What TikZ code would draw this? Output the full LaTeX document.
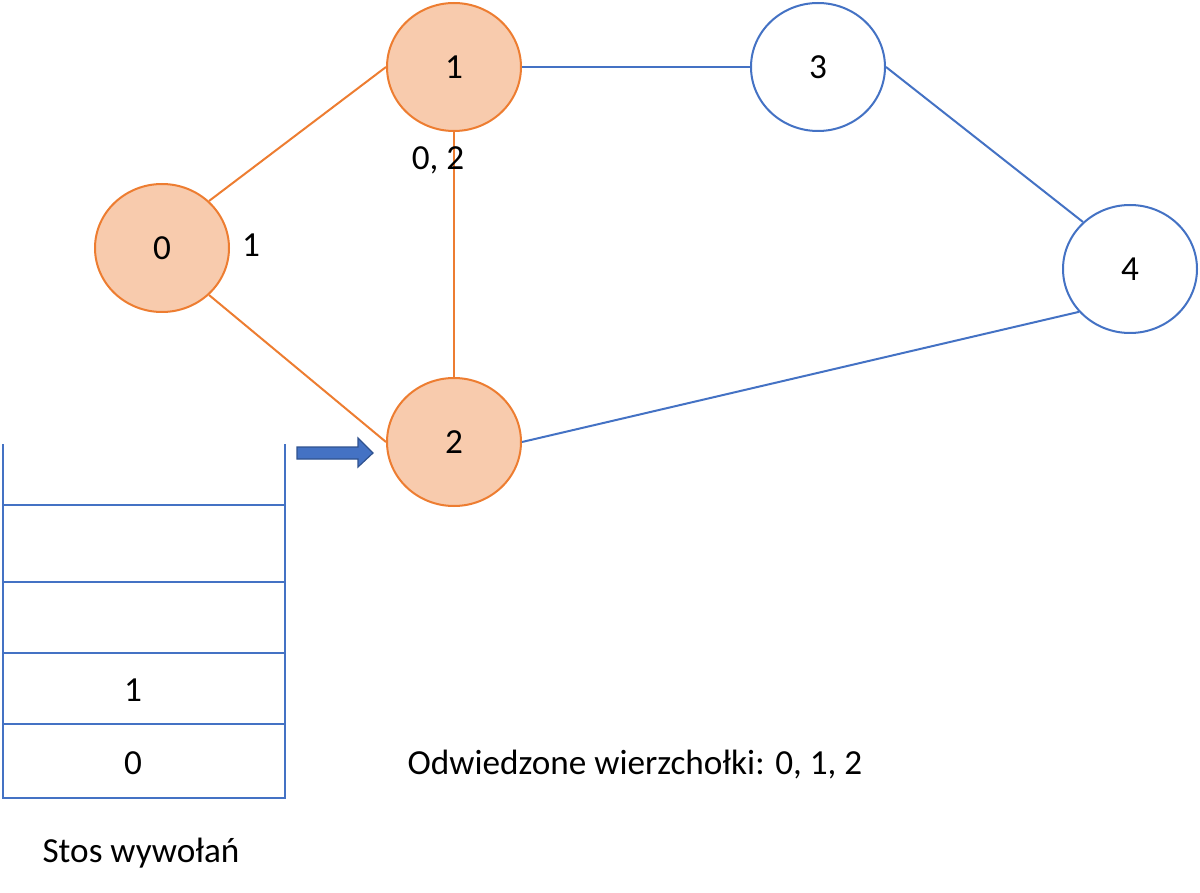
\documentclass[tikz,border=0pt]{standalone}
\usepackage{fontspec}
\setmainfont{Carlito}
\usetikzlibrary{shapes.geometric}
\definecolor{orangeline}{HTML}{ED7D31}
\definecolor{orangefill}{HTML}{F8CBAD}
\definecolor{blueline}{HTML}{4472C4}
\definecolor{bluedark}{HTML}{2F528F}
\tikzset{
  vertex/.style={ellipse, draw, line width=1pt, minimum width=67pt, minimum height=64pt, font=\fontsize{17.6}{21}\selectfont},
  visited/.style={vertex, draw=orangeline, fill=orangefill},
  fresh/.style={vertex, draw=blueline, fill=white},
  done/.style={draw=orangeline, line width=1pt},
  todo/.style={draw=blueline, line width=1pt},
  txt/.style={font=\fontsize{17.6}{21}\selectfont}
}
\begin{document}
\begin{tikzpicture}[x=0.5pt,y=-0.5pt]
\useasboundingbox (0,0) rectangle (1200,893);
%GRAPH
  \node (v0) at (162,248) [visited] {0};
  \node (v1) at (454,67) [visited] {1};
  \node (v2) at (454,442) [visited] {2};
  \node (v3) at (818,67) [fresh] {3};
  \node (v4) at (1130,269) [fresh] {4};
    \draw[done] (v0.45) -- (v1.west);
    \draw[done] (v0.-45) -- (v2.west);
    \draw[done] (v1.south) -- (v2.north);
    \draw[todo] (v1.east) -- (v3.west);
    \draw[todo] (v3.east) -- (v4.135);
    \draw[todo] (v2.east) -- (v4.-140);
  \node (n0) at (251,245) [txt] {1};
  \node (n1) at (438,160) [txt] {0, 2};

%STACK
\draw[blueline, line width=1.3pt]
  (3,444) -- (3,798) -- (285,798) -- (285,444);
\foreach \y in {505,582,653,724}
  \draw[blueline, line width=1.3pt] (3,\y) -- (285,\y);
  \node (s1) at (133,690) [txt] {1};
  \node (s0) at (133,763) [txt] {0};
  \node (stos) at (141,853) [txt] {Stos wywołań};

%ARROW
\draw[fill=blueline, draw=bluedark, line width=0.6pt]
  (297,447) -- (358,447) -- (358,438) -- (373,453) -- (358,467) -- (358,459) -- (297,459) -- cycle;

  \node (odw) at (635,765) [txt] {Odwiedzone wierzchołki: 0, 1, 2};
\end{tikzpicture}
\end{document}
